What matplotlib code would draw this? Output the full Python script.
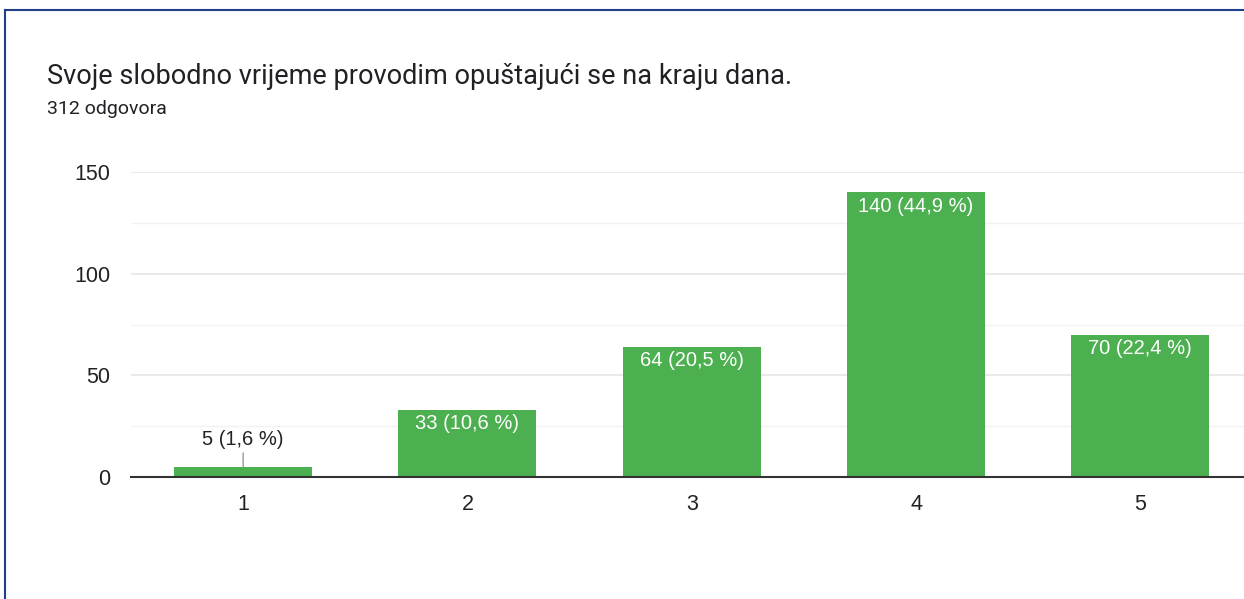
import matplotlib.pyplot as plt
from matplotlib.lines import Line2D

# Data
categories = ['1', '2', '3', '4', '5']
counts = [5, 33, 64, 140, 70]
percents = ['1,6', '10,6', '20,5', '44,9', '22,4']

title = 'Svoje slobodno vrijeme provodim opuštajući se na kraju dana.'
subtitle = '312 odgovora'

green = '#4caf50'
plt.rcParams['font.family'] = ['Liberation Sans', 'DejaVu Sans']

fig = plt.figure(figsize=(12.44, 5.99), dpi=100)
W, H = 1244, 599

# axes in pixel coordinates: left 131, zero line at y=477, 150 at y=172
x0, xw = 131, 5 * 224.3
y0, y1 = 477, 172
ax = fig.add_axes([x0 / W, 1 - y0 / H, xw / W, (y0 - y1) / H])

xpos = list(range(1, len(categories) + 1))
ax.bar(xpos, counts, width=0.615, color=green, zorder=3)

ax.set_xlim(0.5, 5.5)
ax.set_ylim(0, 150)
ax.set_yticks([0, 50, 100, 150])
ax.set_yticks([25, 75, 125], minor=True)
ax.set_xticks(xpos)
ax.set_xticklabels(categories)
ax.grid(axis='y', which='major', color='#e6e6e6', lw=1.2, zorder=0)
ax.grid(axis='y', which='minor', color='#f2f2f2', lw=1.0, zorder=0)
ax.tick_params(axis='both', which='both', length=0, labelsize=15.5, colors='#222222')
ax.tick_params(axis='y', pad=15)
ax.tick_params(axis='x', pad=12)
for s in ['top', 'right', 'left']:
    ax.spines[s].set_visible(False)
ax.spines['bottom'].set_color('#333333')
ax.spines['bottom'].set_linewidth(1.5)
ax.spines['bottom'].set_zorder(4)

# value labels
for x, c, p in zip(xpos, counts, percents):
    label = f'{c} ({p} %)'
    if c < 20:
        ax.annotate(label, (x, c), xytext=(0, 13), textcoords='offset points',
                    ha='center', va='bottom', fontsize=14.5, color='#222222',
                    arrowprops=dict(arrowstyle='-', color='#999999', lw=1,
                                    shrinkA=1, shrinkB=0))
    else:
        ax.annotate(label, (x, c), xytext=(0, -3), textcoords='offset points',
                    ha='center', va='top', fontsize=14.5, color='white', zorder=5)

# title and subtitle
fig.text(47 / W, 1 - 84 / H, title, fontsize=19.5, color='#202124',
         family=['Roboto', 'DejaVu Sans'], va='baseline')
fig.text(47 / W, 1 - 114 / H, subtitle, fontsize=14, color='#202124',
         family=['Roboto', 'DejaVu Sans'], va='baseline')

# frame border on top and left
border = '#1f3f86'
fig.add_artist(Line2D([5 / W, 1], [1 - 10 / H, 1 - 10 / H], color=border, lw=1.5,
                      transform=fig.transFigure))
fig.add_artist(Line2D([5 / W, 5 / W], [1 - 10 / H, 0], color=border, lw=1.5,
                      transform=fig.transFigure))

fig.savefig('out.png', dpi=100)
